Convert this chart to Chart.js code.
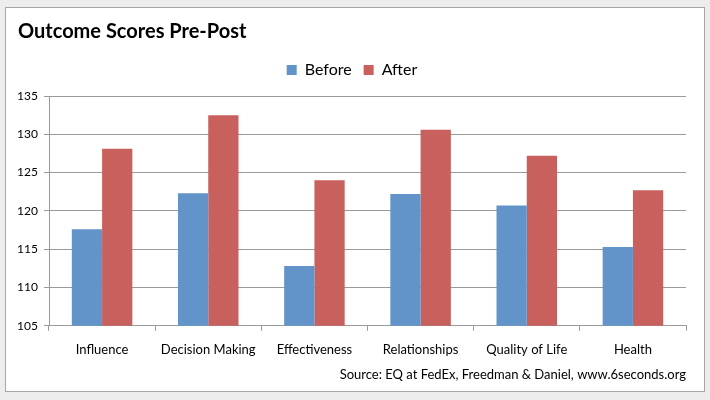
<!DOCTYPE html>
<html>
<head>
<meta charset="utf-8">
<script src="https://cdn.jsdelivr.net/npm/chart.js@4.4.1/dist/chart.umd.min.js"></script>
<style>
  html, body { margin: 0; padding: 0; background: #ededed; }
  #box { position: absolute; left: 5px; top: 7px; width: 698px; height: 383px;
         border: 1px solid #a6a6a6; background: #fff; }
</style>
</head>
<body>
<div id="box"><canvas id="scores" width="698" height="383"></canvas></div>
<script>
// categories and values
const categories = ['Influence', 'Decision Making', 'Effectiveness', 'Relationships', 'Quality of Life', 'Health'];
const beforeScores = [117.6, 122.3, 112.8, 122.2, 120.7, 115.3];
const afterScores = [128.1, 132.5, 124.0, 130.6, 127.2, 122.7];
const yMin = 105, yMax = 135, yStep = 5;

const gridGray = '#9a9a9a';
const font = 'Lato, "Open Sans", sans-serif';

let scoresCanvas = document.getElementById('scores');

// extra room under the legend
const legendGap = {
  id: 'legendGap',
  beforeInit(chart) {
    const fit = chart.legend.fit;
    chart.legend.fit = function () {
      fit.bind(chart.legend)();
      this.height += 8;
    };
  }
};

const dataScores = {
  labels: categories,
  datasets: [
    {
      label: 'Before',
      data: beforeScores,
      backgroundColor: '#6394c9',
      barPercentage: 1,
      categoryPercentage: 0.57,
    },
    {
      label: 'After',
      data: afterScores,
      backgroundColor: '#c8615d',
      barPercentage: 1,
      categoryPercentage: 0.57,
    },
  ]
};

const configScores = {
  type: 'bar',
  data: dataScores,
  plugins: [legendGap],
  options: {
    responsive: false,
    animation: false,
    layout: { padding: { left: 12, right: 18, top: 12, bottom: 8 } },
    plugins: {
      title: {
        display: true,
        text: 'Outcome Scores Pre-Post',
        align: 'start',
        color: '#000',
        font: { family: font, size: 20, weight: 'bold' },
        padding: { top: 0, bottom: 6 },
      },
      legend: {
        position: 'top',
        labels: {
          color: '#000',
          font: { family: font, size: 16 },
          boxWidth: 10,
          boxHeight: 10,
          padding: 12,
        }
      },
      subtitle: {
        display: true,
        position: 'bottom',
        align: 'end',
        text: 'Source: EQ at FedEx, Freedman & Daniel, www.6seconds.org',
        color: '#000',
        font: { family: font, size: 13 },
        padding: { top: 0, bottom: 0 },
      },
      tooltip: { enabled: false },
    },
    scales: {
      x: {
        grid: {
          offset: true,
          drawOnChartArea: false,
          color: gridGray,
          tickLength: 5,
        },
        border: { color: gridGray },
        ticks: { color: '#000', font: { family: font, size: 13 }, padding: 11 },
        afterFit: (scale) => { scale.height -= 1; },
      },
      y: {
        min: yMin,
        max: yMax,
        ticks: { stepSize: yStep, color: '#000', font: { family: font, size: 12 }, padding: 6 },
        grid: { color: gridGray, tickLength: 5 },
        border: { color: gridGray },
        afterFit: (scale) => { scale.width = 31; },
      }
    }
  },
};

let scoresGraph = new Chart(scoresCanvas, configScores);
</script>
</body>
</html>
